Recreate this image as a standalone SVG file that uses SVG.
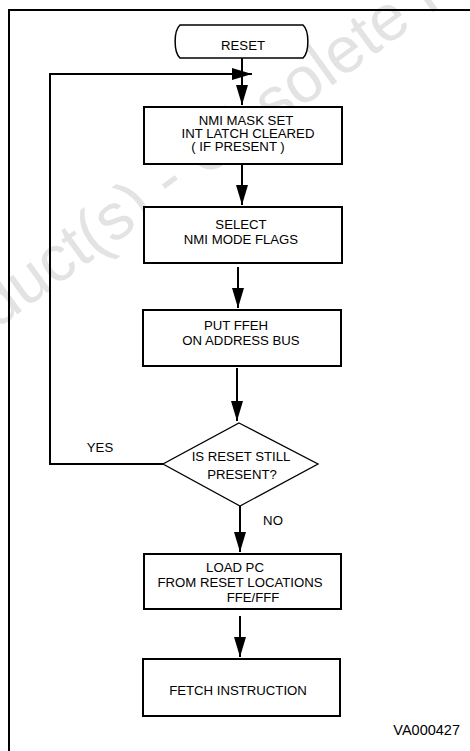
<svg xmlns="http://www.w3.org/2000/svg" width="470" height="751" viewBox="0 0 470 751">
<defs>
<style>
text{font-family:"Liberation Sans",Arial,sans-serif;font-size:13.2px;fill:#000;text-anchor:middle}
.box{fill:#fff;stroke:#000;stroke-width:2}
.dia{fill:#fff;stroke:#000;stroke-width:1.3}
.ln{fill:none;stroke:#000;stroke-width:2}
.wm{font-size:65px;fill:#e3e3e3}
</style>
<marker id="ah" markerUnits="userSpaceOnUse" markerWidth="20" markerHeight="12" refX="20" refY="6" orient="auto">
<path d="M0,0 L20,6 L0,12 Z" fill="#000"/>
</marker>
</defs>
<rect width="470" height="751" fill="#fff"/>
<text class="wm" transform="translate(180,196) rotate(-36)">Obsolete Product(s) - Obsolete Product(s)</text>
<path class="ln" d="M9,751 V10 H470"/>
<g id="connectors">
<path class="ln" d="M242,58 V105" marker-end="url(#ah)"/>
<path class="ln" d="M163,464 H50 V74 H252" marker-end="url(#ah)"/>
<path class="ln" d="M242,164 V205" marker-end="url(#ah)"/>
<path class="ln" d="M238,267 V308" marker-end="url(#ah)"/>
<path class="ln" d="M237,368 V421" marker-end="url(#ah)"/>
<path class="ln" d="M240,506 V552" marker-end="url(#ah)"/>
<path class="ln" d="M240,616 V657" marker-end="url(#ah)"/>
</g>
<g id="reset">
<path d="M180,25 H303 C309.5,31 309.5,52 303,58 H180 C173.5,52 173.5,31 180,25 Z" fill="#fff" stroke="#000" stroke-width="1.5"/>
<text x="243" y="50">RESET</text>
</g>
<g id="nmi-mask">
<rect class="box" x="144" y="107" width="198" height="57"/>
<text x="246" y="125">NMI MASK SET</text>
<text x="248" y="138">INT LATCH CLEARED</text>
<text x="238" y="151">( IF PRESENT )</text>
</g>
<g id="select">
<rect class="box" x="144" y="207" width="198" height="56"/>
<text x="241" y="229">SELECT</text>
<text x="241" y="244">NMI MODE FLAGS</text>
</g>
<g id="put">
<rect class="box" x="143" y="310" width="198" height="56"/>
<text x="236" y="330">PUT FFEH</text>
<text x="241" y="345">ON ADDRESS BUS</text>
</g>
<g id="decision">
<polygon class="dia" points="239,423 318,464 240,506 163,464"/>
<text x="241" y="461">IS RESET STILL</text>
<text x="242" y="479">PRESENT?</text>
</g>
<g id="labels">
<text x="100" y="452">YES</text>
<text x="273" y="525">NO</text>
</g>
<g id="load">
<rect class="box" x="144" y="554" width="197" height="55"/>
<text x="235" y="572">LOAD PC</text>
<text x="240" y="587">FROM RESET LOCATIONS</text>
<text x="253" y="602">FFE/FFF</text>
</g>
<g id="fetch">
<rect class="box" x="143" y="659" width="197" height="57"/>
<text x="238" y="695">FETCH INSTRUCTION</text>
</g>
<text x="460" y="735" style="text-anchor:end;font-size:14.5px">VA000427</text>
</svg>
